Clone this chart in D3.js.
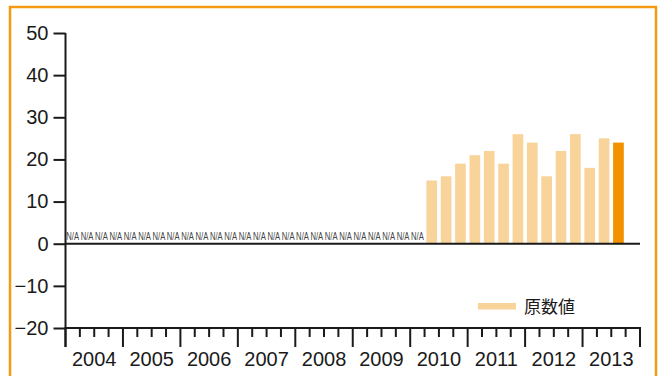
<!DOCTYPE html>
<html><head><meta charset="utf-8">
<script src="https://cdn.jsdelivr.net/npm/d3@7"></script>
<style>
html,body{margin:0;padding:0;background:#fff;}
svg{display:block;}
</style></head>
<body>
<svg id="c" width="664" height="376"></svg>
<script>
// ---- data ----
const years = ["2004","2005","2006","2007","2008","2009","2010","2011","2012","2013"];
const quarters = years.flatMap(y => ["Q1","Q2","Q3","Q4"].map(q => y + q));
// observed quarters (2004Q1 .. 2013Q3); null = N/A
const dataQuarters = quarters.slice(0, 39);
const values = [
  null,null,null,null, null,null,null,null, null,null,null,null,
  null,null,null,null, null,null,null,null, null,null,null,null,
  null, 15,16,19, 21,22,19,26, 24,16,22,26, 18,25,24
];
const yTicks = [50,40,30,20,10,0,-10,-20];
const legendLabel = "原数値";

// ---- layout ----
const svg = d3.select("#c");
const pL = 65.5, pR = 640, pT = 33, pB = 328;
const light = "#F9D49A", dark = "#F39200", ink = "#1a1a1a";
const font = "'Liberation Sans Narrow','Liberation Sans',Arial,sans-serif";

svg.append("rect").attr("x",10).attr("y",7).attr("width",646).attr("height",400)
  .attr("fill","none").attr("stroke","#F39A12").attr("stroke-width",2.5);

const y = d3.scaleLinear().domain([-20,50]).range([pB, pT]);
const x = d3.scaleBand().domain(quarters).range([pL, pR]).padding(0);
const xYear = d3.scaleBand().domain(years).range([pL, pR]);

// bars
const barW = 10.7;
const g = svg.append("g");
dataQuarters.forEach((q,i) => {
  const v = values[i];
  const cx = x(q) + x.bandwidth()/2;
  if (v == null) {
    const t = g.append("text").attr("x", 0).attr("y", 0)
      .attr("text-anchor","middle")
      .attr("font-family", font).attr("font-size", 11.5).attr("fill","#444")
      .text("N/A");
    const w = t.node().getComputedTextLength();
    const sx = (x.bandwidth() - 1.6) / w;
    t.attr("transform", `translate(${cx},${y(0)-4}) scale(${sx},1)`);
  } else {
    g.append("rect").attr("x", cx - barW/2).attr("width", barW)
      .attr("y", y(v)).attr("height", y(0)-y(v))
      .attr("fill", i === dataQuarters.length-1 ? dark : light);
  }
});

// zero line
svg.append("line").attr("x1",pL).attr("x2",pR).attr("y1",y(0)).attr("y2",y(0))
  .attr("stroke",ink).attr("stroke-width",2);

// y axis
const yAxis = d3.axisLeft(y).tickValues(yTicks).tickSize(12).tickPadding(5)
  .tickFormat(d => d < 0 ? "\u2212" + Math.abs(d) : d);
const ya = svg.append("g").attr("transform",`translate(${pL},0)`).call(yAxis);
ya.select(".domain").remove();
ya.selectAll("line").attr("stroke",ink).attr("stroke-width",2);
ya.selectAll("text").attr("font-family",font).attr("font-size",20).attr("fill",ink);
svg.append("line").attr("x1",pL).attr("x2",pL).attr("y1",pT).attr("y2",347)
  .attr("stroke",ink).attr("stroke-width",2);

// x axis
svg.append("line").attr("x1",pL-1).attr("x2",pR+1).attr("y1",pB).attr("y2",pB)
  .attr("stroke",ink).attr("stroke-width",2);
const xa = svg.append("g");
quarters.forEach((q,i) => {
  const major = i % 4 === 0;
  xa.append("line").attr("x1",x(q)).attr("x2",x(q)).attr("y1",pB)
    .attr("y2", pB + (major ? 19 : 9)).attr("stroke",ink).attr("stroke-width",2);
});
xa.append("line").attr("x1",pR).attr("x2",pR).attr("y1",pB).attr("y2",pB+19)
  .attr("stroke",ink).attr("stroke-width",2);
xa.selectAll("text.yr").data(years).join("text").attr("class","yr")
  .attr("x", d => xYear(d) + xYear.bandwidth()/2).attr("y", 366)
  .attr("text-anchor","middle").attr("font-family",font).attr("font-size",20)
  .attr("fill",ink).text(d => d);

// legend
svg.append("rect").attr("x",478).attr("y",303).attr("width",38).attr("height",6.5).attr("fill",light);
svg.append("text").attr("x",524).attr("y",312.5).attr("font-family","'Noto Sans CJK JP',sans-serif")
  .attr("font-size",17).attr("fill",ink).text(legendLabel);
</script>
</body></html>
